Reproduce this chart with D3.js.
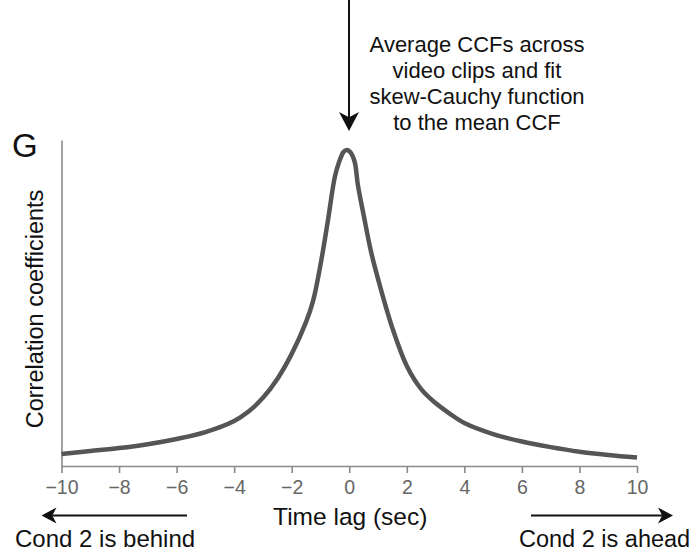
<!DOCTYPE html>
<html>
<head>
<meta charset="utf-8">
<script src="https://cdn.jsdelivr.net/npm/d3@7"></script>
<style>
  html, body { margin: 0; padding: 0; background: #fff; }
  svg { display: block; font-family: "Liberation Sans", Arial, sans-serif; }
</style>
</head>
<body>
<svg id="chart" width="696" height="554"></svg>
<script>
// Mean cross-correlation function (normalised), sampled along the time lag
const lags = [-10, -9, -8, -7, -6, -5, -4, -3.5, -3, -2.5, -2, -1.5, -1.25, -1, -0.75, -0.5,
  -0.35, -0.2, -0.1, 0, 0.1, 0.2, 0.3, 0.5, 0.75, 1, 1.5, 2, 2.5, 3, 3.5, 4, 5, 6, 7, 8, 9, 10];
const meanCCF = [0.037, 0.046, 0.055, 0.067, 0.083, 0.104, 0.138, 0.167, 0.209, 0.267, 0.344,
  0.442, 0.509, 0.617, 0.748, 0.887, 0.933, 0.963, 0.969, 0.966, 0.954, 0.929, 0.862, 0.770,
  0.660, 0.574, 0.423, 0.307, 0.236, 0.193, 0.160, 0.132, 0.098, 0.075, 0.058, 0.044, 0.034, 0.026];

const xTicks = [-10, -8, -6, -4, -2, 0, 2, 4, 6, 8, 10];
const panelLabel = "G";
const yTitle = "Correlation coefficients";
const xTitle = "Time lag (sec)";
const leftNote = "Cond 2 is behind";
const rightNote = "Cond 2 is ahead";
const topNote = ["Average CCFs across", "video clips and fit", "skew-Cauchy function", "to the mean CCF"];

const svg = d3.select("#chart");
const axisColor = "#8a8a8a";

const x = d3.scaleLinear().domain([-10, 10]).range([61.5, 637]);
const y = d3.scaleLinear().domain([0, 1]).range([466, 140]);

// x axis
const gx = svg.append("g")
  .attr("transform", `translate(0,${y(0)})`)
  .call(d3.axisBottom(x).tickValues(xTicks).tickSize(7).tickSizeOuter(0).tickPadding(7.5)
    .tickFormat(d3.format("d")));
gx.select(".domain").attr("stroke", axisColor).attr("stroke-width", 1.6);
gx.selectAll(".tick line").attr("stroke", axisColor).attr("stroke-width", 1.6);
gx.selectAll(".tick text").attr("fill", "#666").attr("font-size", 19.5)
  .attr("font-family", "Liberation Sans, Arial, sans-serif");

// y axis (no ticks)
const gy = svg.append("g")
  .attr("transform", `translate(${x(-10)},0)`)
  .call(d3.axisLeft(y).tickValues([]).tickSizeOuter(0));
gy.select(".domain").attr("stroke", axisColor).attr("stroke-width", 1.6);

// mean CCF curve
const line = d3.line()
  .x((d, i) => x(lags[i]))
  .y(d => y(d))
  .curve(d3.curveCatmullRom.alpha(0.5));

svg.append("path")
  .datum(meanCCF)
  .attr("d", line)
  .attr("fill", "none")
  .attr("stroke", "#555")
  .attr("stroke-width", 4.5)
  .attr("stroke-linejoin", "round");

// titles
svg.append("text")
  .attr("x", 12).attr("y", 157)
  .attr("font-size", 33).attr("fill", "#111")
  .text(panelLabel);

svg.append("text")
  .attr("transform", `translate(43,309) rotate(-90)`)
  .attr("text-anchor", "middle")
  .attr("font-size", 23.5).attr("fill", "#111")
  .text(yTitle);

svg.append("text")
  .attr("x", (x(-10) + x(10)) / 2 + 1).attr("y", 525)
  .attr("text-anchor", "middle")
  .attr("font-size", 24.5).attr("fill", "#111")
  .text(xTitle);

svg.append("text")
  .attr("x", 15).attr("y", 547)
  .attr("font-size", 24).attr("fill", "#111")
  .text(leftNote);

svg.append("text")
  .attr("x", 519).attr("y", 547)
  .attr("font-size", 23.5).attr("fill", "#111")
  .text(rightNote);

// annotation text
const note = svg.append("text")
  .attr("text-anchor", "middle")
  .attr("font-size", 22).attr("fill", "#111");
topNote.forEach((t, i) => {
  note.append("tspan").attr("x", 477).attr("y", 52 + i * 26).text(t);
});

// arrows: shaft plus notched head
function arrow(x1, y1, x2, y2, headLen, headHalf) {
  const ang = Math.atan2(y2 - y1, x2 - x1);
  const ux = Math.cos(ang), uy = Math.sin(ang);
  const px = -uy, py = ux;
  const bx = x2 - ux * headLen, by = y2 - uy * headLen;
  const nx = x2 - ux * headLen * 0.72, ny = y2 - uy * headLen * 0.72;
  svg.append("line")
    .attr("x1", x1).attr("y1", y1).attr("x2", nx).attr("y2", ny)
    .attr("stroke", "#111").attr("stroke-width", 2);
  svg.append("path")
    .attr("d", `M${x2},${y2}L${bx + px * headHalf},${by + py * headHalf}L${nx},${ny}L${bx - px * headHalf},${by - py * headHalf}Z`)
    .attr("fill", "#111");
}

arrow(349, 0, 349, 131, 19, 10);
arrow(187, 515.5, 41.5, 515.5, 15, 8);
arrow(531, 515.5, 673, 515.5, 15, 8);
</script>
</body>
</html>
